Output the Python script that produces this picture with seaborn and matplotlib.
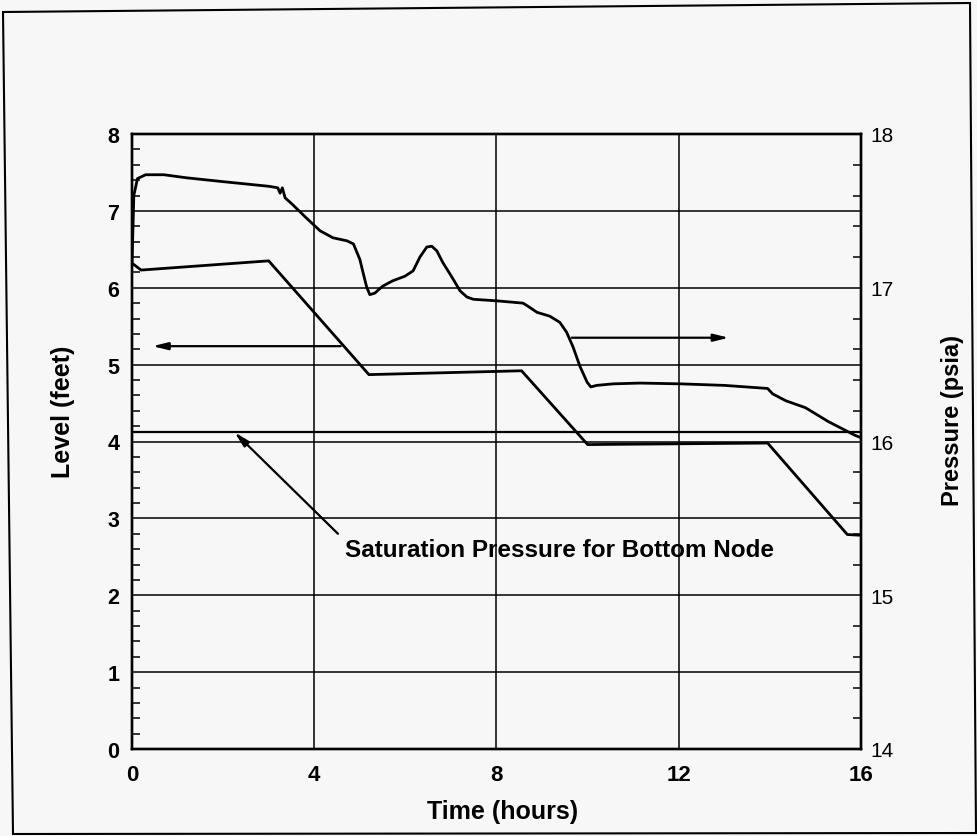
import numpy as np
import pandas as pd
import matplotlib
matplotlib.use("Agg")
import matplotlib.pyplot as plt
from matplotlib.ticker import MultipleLocator
from matplotlib.patches import Polygon
import seaborn as sns

# Liquid level in the tank (left axis, feet)
time_level = [0.0, 0.2, 3.0, 5.2, 8.55, 10.0, 13.95, 15.7, 16.0]
level_ft = [6.32, 6.23, 6.35, 4.87, 4.92, 3.96, 3.98, 2.79, 2.78]

# Pressure at the bottom node (right axis, psia)
time_pressure = [0.0, 0.04, 0.12, 0.3, 0.7, 1.2, 2.0, 3.0, 3.2, 3.25, 3.3, 3.36,
                 3.51, 3.84, 4.13, 4.41, 4.72, 4.86, 5.0, 5.07, 5.15, 5.22, 5.33,
                 5.5, 5.72, 5.99, 6.17, 6.32, 6.47, 6.58, 6.69, 6.82, 7.02, 7.2,
                 7.35, 7.49, 8.0, 8.58, 8.69, 8.89, 9.17, 9.39, 9.54, 9.68, 9.83,
                 9.99, 10.07, 10.2, 10.56, 11.15, 12.03, 13.0, 13.95, 14.06,
                 14.35, 14.78, 15.28, 15.87, 16.0]
pressure_psia = [17.15, 17.6, 17.71, 17.735, 17.735, 17.715, 17.69, 17.66, 17.65,
                 17.615, 17.65, 17.585, 17.545, 17.45, 17.37, 17.325, 17.305,
                 17.285, 17.185, 17.10, 17.005, 16.955, 16.965, 17.01, 17.045,
                 17.075, 17.11, 17.2, 17.265, 17.27, 17.24, 17.165, 17.07, 16.98,
                 16.94, 16.925, 16.915, 16.90, 16.88, 16.84, 16.815, 16.775,
                 16.71, 16.615, 16.49, 16.385, 16.355, 16.365, 16.375, 16.38,
                 16.375, 16.365, 16.345, 16.31, 16.265, 16.22, 16.13, 16.04,
                 16.025]

saturation_psia = 16.06

x_ticks = [0, 4, 8, 12, 16]
level_ticks = [0, 1, 2, 3, 4, 5, 6, 7, 8]
pressure_ticks = [14, 15, 16, 17, 18]

sns.set_style("white")
plt.rcParams["font.family"] = ["Liberation Sans", "DejaVu Sans"]
plt.rcParams.update({"text.color": "black", "axes.labelcolor": "black",
                     "xtick.color": "black", "ytick.color": "black"})
bg = "#f7f7f7"

fig = plt.figure(figsize=(9.78, 8.37), dpi=100, facecolor=bg)
ax = fig.add_axes([132 / 978, 1 - 750 / 837, (861 - 132) / 978, (750 - 135) / 837])
ax.set_facecolor(bg)

level_df = pd.DataFrame({"Time": time_level, "Level": level_ft})
press_df = pd.DataFrame({"Time": time_pressure, "Pressure": pressure_psia})

sns.lineplot(data=level_df, x="Time", y="Level", ax=ax, color="black",
             linewidth=2.0, zorder=4)

ax.set_xlim(0, 16)
ax.set_ylim(0, 8)
ax.set_xticks(x_ticks)
ax.set_yticks(level_ticks)
ax.xaxis.set_minor_locator(MultipleLocator(0.8))
ax.yaxis.set_minor_locator(MultipleLocator(0.2))
ax.grid(True, which="major", color="black", linewidth=1.1)
ax.tick_params(axis="y", which="major", length=0, pad=9)
ax.tick_params(axis="x", which="major", length=0, pad=11)
ax.tick_params(axis="both", which="minor", direction="in", length=6,
               width=1.1, color="black")
ax.tick_params(axis="x", which="minor", top=False)
for lab in ax.get_xticklabels():
    lab.set_fontweight("bold")
    lab.set_fontsize(16)
for lab in ax.get_yticklabels():
    lab.set_fontweight("bold")
    lab.set_fontsize(15.5)
ax.set_xlabel("Time (hours)", fontsize=18, fontweight="bold")
ax.set_ylabel("Level (feet)", fontsize=18, fontweight="bold")
ax.xaxis.set_label_coords(0.508, -0.081)
ax.yaxis.set_label_coords(-0.078, 0.55)
for s in ax.spines.values():
    s.set_color("black")
    s.set_linewidth(1.7)

ax2 = ax.twinx()
sns.lineplot(data=press_df, x="Time", y="Pressure", ax=ax2, color="black",
             linewidth=2.0, zorder=4)
ax2.axhline(saturation_psia, color="black", linewidth=1.6)
ax2.set_ylim(14, 18)
ax2.set_yticks(pressure_ticks)
ax2.yaxis.set_minor_locator(MultipleLocator(0.2))
ax2.tick_params(axis="y", which="major", length=0, pad=7, labelsize=15)
ax2.tick_params(axis="y", which="minor", direction="in", length=6,
                width=1.1, color="black")
ax2.set_ylabel("Pressure (psia)", fontsize=17, fontweight="bold")
ax2.yaxis.set_label_coords(1.11, 0.535)
ax2.grid(False)
for s in ax2.spines.values():
    s.set_color("black")
    s.set_linewidth(1.7)

# Direction arrows tying each curve to its axis
arrow_kw = dict(arrowstyle="-|>,head_length=0.9,head_width=0.22",
                color="black", lw=1.6, shrinkA=0, shrinkB=0)
ax.annotate("", xy=(0.45, 5.24), xytext=(4.58, 5.24), arrowprops=arrow_kw)
ax.annotate("", xy=(13.1, 5.35), xytext=(9.65, 5.35), arrowprops=arrow_kw)

# Saturation pressure callout
ax.annotate("", xy=(2.25, 4.12), xytext=(4.52, 2.80), arrowprops=arrow_kw)
ax.text(4.68, 2.60, "Saturation Pressure for Bottom Node", fontsize=17.5,
        fontweight="bold", ha="left", va="center")

# Outer frame around the figure
frame = Polygon([(3 / 978, 1 - 13 / 837), (970 / 978, 1 - 4 / 837),
                 (976 / 978, 1 - 834 / 837), (13 / 978, 1 - 835 / 837)],
                closed=True, fill=False, edgecolor="black", linewidth=1.5,
                transform=fig.transFigure, figure=fig)
fig.patches.append(frame)

fig.savefig("out.png", dpi=100, facecolor=bg)
